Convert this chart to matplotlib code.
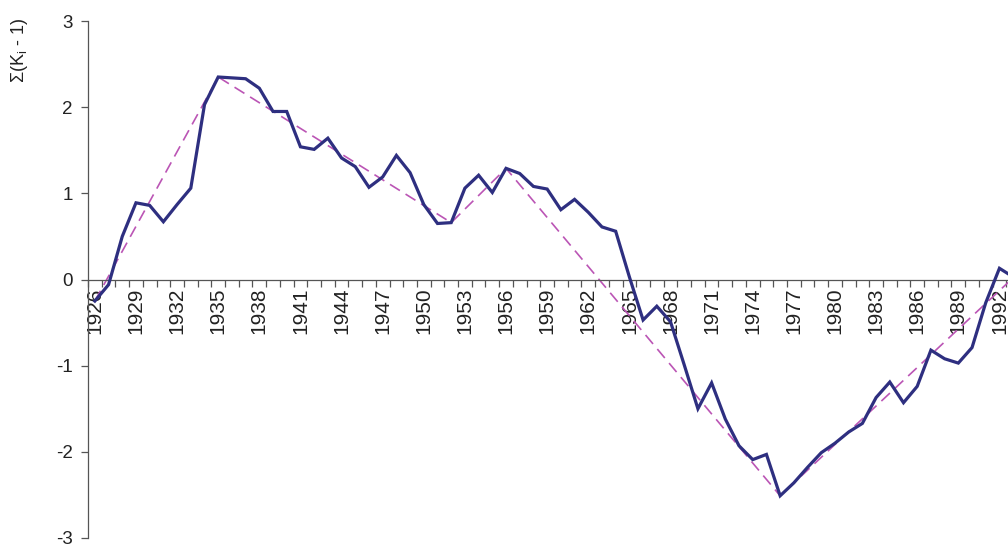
import matplotlib.pyplot as plt
import numpy as np

plt.rcParams['font.family'] = ['Liberation Sans', 'DejaVu Sans']
plt.rcParams['mathtext.fontset'] = 'custom'
plt.rcParams['mathtext.rm'] = 'Liberation Sans'
plt.rcParams['axes.unicode_minus'] = False

# cumulative sum of (Ki - 1), one value per year
years = list(range(1926, 1994))
cusum = [-0.25, -0.06, 0.50, 0.89, 0.86, 0.67, 0.87, 1.06, 2.03, 2.35,
         2.34, 2.33, 2.22, 1.95, 1.95, 1.54, 1.51, 1.64, 1.41, 1.31,
         1.07, 1.19, 1.44, 1.24, 0.87, 0.65, 0.66, 1.06, 1.21, 1.01,
         1.29, 1.23, 1.08, 1.05, 0.81, 0.93, 0.78, 0.61, 0.56, 0.03,
         -0.47, -0.31, -0.49, -0.99, -1.50, -1.20, -1.62, -1.93, -2.09, -2.03,
         -2.51, -2.36, -2.18, -2.01, -1.90, -1.77, -1.67, -1.37, -1.19, -1.43,
         -1.24, -0.82, -0.92, -0.97, -0.79, -0.27, 0.13, 0.03]

# turning points of the trend (dashed line)
trend_years = [1926, 1935, 1952, 1956, 1976, 1993]
trend_vals = [-0.25, 2.35, 0.66, 1.29, -2.51, 0.02]

fig = plt.figure(figsize=(10.08, 5.44), dpi=100)
ax = fig.add_axes([88 / 1008, 1 - 538 / 544, 932 / 1008, 517 / 544])

x = np.arange(len(years))
tx = [years.index(y) for y in trend_years]

ax.plot(tx, trend_vals, color='#BB55B5', lw=1.2, dashes=(7, 4), zorder=2)
ax.plot(x, cusum, color='#2E2F80', lw=2.3, zorder=3, solid_joinstyle='miter')

ax.set_xlim(-0.5, len(years) - 0.5)
ax.set_ylim(-3, 3)

for s in ['top', 'right']:
    ax.spines[s].set_visible(False)
ax.spines['bottom'].set_position(('data', 0))
for s in ['left', 'bottom']:
    ax.spines[s].set_color('#555555')
    ax.spines[s].set_linewidth(0.9)

ax.set_yticks(range(-3, 4))
ax.tick_params(axis='y', direction='out', length=5, width=0.9, color='#555555',
               labelsize=13.5, pad=6, labelcolor='#222222')

ax.set_xticks(x[::3])
ax.set_xticklabels([str(y) for y in years[::3]], rotation=90)
ax.set_xticks(np.arange(-0.5, len(years), 1), minor=True)
ax.tick_params(axis='x', which='major', length=0, labelsize=15, pad=6,
               labelcolor='#222222')
ax.tick_params(axis='x', which='minor', direction='out', length=5, width=0.9,
               color='#555555')

fig.text(20 / 1008, 1 - 17 / 544, r'Σ(K$_\mathregular{i}$ - 1)', rotation=90,
         ha='center', va='top', fontsize=13, color='#222222')

fig.savefig('out.png', dpi=100)
